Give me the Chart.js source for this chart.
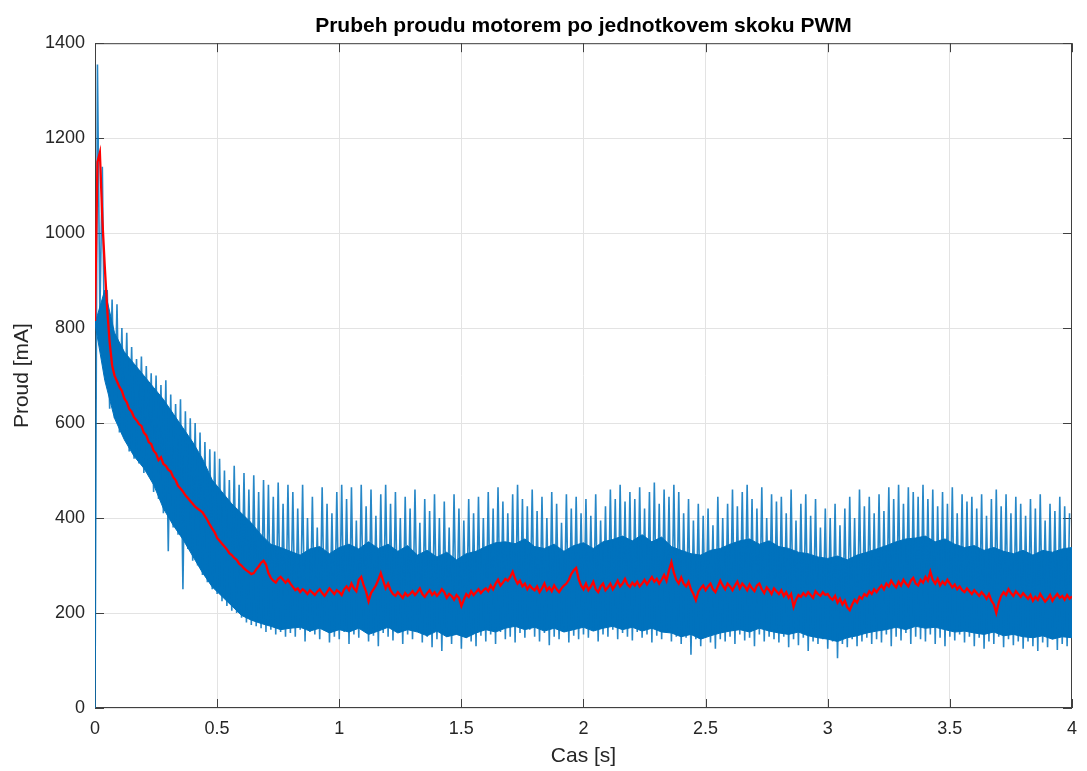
<!DOCTYPE html>
<html>
<head>
<meta charset="utf-8">
<script src="https://cdn.jsdelivr.net/npm/chart.js@4/dist/chart.umd.min.js"></script>
<style>
html, body { margin: 0; background: #fff; }
#wrap { width: 1087px; height: 771px; }
</style>
</head>
<body>
<div id="wrap"><canvas id="chart"></canvas></div>
<script>
// cas v sekundach, proud v mA
const xTicks = [0, 0.5, 1, 1.5, 2, 2.5, 3, 3.5, 4];
const yTicks = [0, 200, 400, 600, 800, 1000, 1200, 1400];

// husty pas mereneho proudu (krok 0.04 s)
const bandStep = 0.04;
const bandLo = [
    810, 690, 610, 565, 530, 505, 470, 420, 385, 355,
    320, 285, 255, 235, 215, 195, 185, 178, 172, 165,
    168, 170, 162, 168, 158, 165, 160, 168, 155, 162,
    170, 158, 165, 160, 152, 162, 150, 155, 148, 158,
    165, 160, 168, 172, 165, 170, 162, 168, 160, 165,
    170, 162, 168, 172, 165, 170, 162, 168, 160, 158,
    150, 155, 145, 152, 158, 162, 165, 160, 168, 162,
    158, 155, 160, 152, 148, 145, 140, 148, 152, 158,
    162, 165, 170, 165, 172, 168, 170, 165, 160, 162,
    158, 155, 160, 152, 155, 150, 148, 152, 145, 150,
    148
];
const bandHi = [
    810, 880, 790, 750, 725, 700, 675, 650, 620, 590,
    560, 525, 480, 455, 430, 410, 390, 365, 345, 338,
    330, 322, 335, 340, 325, 338, 345, 335, 350, 336,
    345, 330, 342, 322, 332, 318, 328, 312, 325, 330,
    340, 348, 350, 346, 356, 340, 336, 345, 330, 342,
    348, 336, 350, 355, 362, 352, 365, 350, 360, 340,
    332, 325, 322, 332, 336, 345, 352, 356, 345, 352,
    340, 336, 328, 325, 318, 315, 320, 312, 322, 328,
    335, 342, 350, 356, 358, 362, 350, 356, 345, 338,
    342, 332, 338, 330, 325, 332, 322, 332, 328, 335,
    338
];

// spicky PWM (krok 0.02 s), dolni a horni
const spikeStep = 0.02;
const spikeLo = [
    0, 830, 700, 630, 610, 580, 570, 540, 525, 515,
    495, 490, 455, 440, 410, 330, 380, 365, 250, 335,
    310, 300, 280, 265, 250, 240, 225, 215, 205, 200,
    190, 180, 175, 172, 168, 160, 165, 155, 160, 150,
    158, 150, 165, 140, 160, 155, 145, 162, 138, 150,
    145, 160, 135, 155, 148, 165, 140, 152, 130, 158,
    150, 142, 160, 135, 155, 145, 165, 138, 150, 128,
    145, 120, 150, 135, 155, 125, 148, 140, 130, 152,
    140, 155, 135, 160, 145, 150, 138, 158, 148, 165,
    150, 140, 158, 132, 150, 145, 160, 138, 152, 145,
    155, 148, 162, 140, 155, 150, 165, 145, 158, 150,
    142, 160, 148, 155, 138, 152, 145, 158, 140, 150,
    135, 148, 112, 145, 130, 150, 138, 125, 145, 140,
    150, 135, 155, 142, 148, 130, 155, 140, 150, 145,
    138, 150, 128, 145, 132, 148, 120, 140, 135, 145,
    125, 140, 105, 135, 128, 145, 130, 140, 148, 135,
    145, 138, 155, 130, 150, 142, 158, 135, 150, 145,
    140, 155, 135, 148, 130, 150, 142, 155, 138, 150,
    130, 148, 125, 140, 135, 150, 128, 145, 132, 140,
    125, 140, 130, 120, 138, 128, 145, 122, 135, 130
];
const spikeHi = [
    1355, 1140, 880, 860, 850, 800, 790, 760, 735, 740,
    720, 705, 700, 680, 690, 660, 640, 650, 625, 610,
    600, 580, 560, 545, 540, 525, 500, 480, 510, 470,
    495, 460, 490, 455, 480, 470, 445, 475, 430, 470,
    455, 420, 470, 400, 445, 380, 465, 430, 410, 455,
    470, 440, 465, 395, 470, 425, 460, 405, 450, 470,
    430, 455, 400, 445, 420, 460, 390, 440, 415, 450,
    400, 435, 380, 450, 420, 395, 440, 410, 445, 400,
    455, 420, 465, 435, 410, 450, 470, 440, 425, 460,
    415, 445, 400, 455, 430, 390, 450, 420, 445, 410,
    440, 405, 450, 395, 425, 460, 440, 470, 435, 455,
    440, 465, 420, 455, 475, 430, 460, 445, 470, 455,
    410, 440, 395, 430, 405, 420, 385, 445, 400, 430,
    460, 425, 455, 470, 440, 420, 465, 400, 450, 435,
    445, 410, 460, 395, 430, 450, 405, 440, 380, 420,
    400, 430, 385, 420, 445, 400, 460, 425, 445, 410,
    450, 415, 465, 440, 470, 430, 465, 455, 445, 470,
    440, 460, 425, 455, 430, 465, 410, 450, 435, 445,
    420, 450, 405, 440, 460, 425, 450, 410, 445, 430,
    405, 440, 420, 450, 395, 430, 415, 445, 425, 410
];

// vyhlazeny prubeh (krok 0.01 s)
const redStep = 0.01;
const filtered = [
    815, 1150, 1170, 1030, 930, 840, 770, 722, 700, 688,
    676, 668, 652, 644, 630, 624, 612, 606, 598, 594,
    580, 574, 560, 556, 542, 536, 522, 528, 514, 510,
    502, 498, 486, 480, 468, 462, 456, 448, 442, 436,
    430, 424, 420, 416, 412, 404, 396, 386, 378, 370,
    358, 352, 346, 340, 334, 326, 322, 316, 312, 304,
    300, 294, 290, 286, 282, 284, 292, 298, 306, 310,
    302, 284, 274, 268, 264, 272, 276, 270, 264, 270,
    262, 255, 248, 252, 244, 250, 246, 240, 248, 243,
    238, 245, 250, 242, 236, 244, 252, 246, 240, 248,
    244, 238, 250, 256, 248, 262, 252, 246, 270, 276,
    258, 245, 225, 242, 250, 258, 270, 284, 268, 252,
    262, 248, 240, 236, 244, 238, 232, 242, 236, 240,
    246, 238, 244, 252, 240, 234, 242, 248, 238, 244,
    236, 242, 250, 244, 232, 240, 236, 228, 238, 232,
    215, 228, 240, 234, 246, 238, 244, 250, 242, 248,
    252, 246, 258, 250, 262, 270, 258, 264, 272, 268,
    276, 287, 272, 262, 268, 256, 262, 250, 258, 252,
    248, 256, 244, 252, 262, 248, 254, 246, 258, 250,
    244, 252, 258, 262, 270, 282, 290, 295, 272, 258,
    250, 262, 248, 256, 266, 250, 244, 256, 262, 248,
    254, 262, 250, 258, 268, 256, 262, 272, 260, 255,
    264, 258, 266, 256, 262, 270, 260, 268, 276, 266,
    272, 262, 270, 280, 268, 290, 307, 285, 270, 262,
    275, 262, 256, 266, 250, 240, 227, 245, 252, 258,
    248, 256, 262, 250, 244, 256, 268, 258, 250, 262,
    256, 248, 258, 266, 252, 262, 256, 248, 260, 252,
    246, 258, 262, 250, 242, 254, 248, 240, 252, 246,
    240, 248, 236, 244, 232, 240, 213, 228, 238, 234,
    242, 236, 244, 238, 232, 246, 240, 236, 244, 238,
    240, 232, 228, 236, 222, 230, 218, 226, 212, 206,
    218, 228, 222, 234, 230, 240, 236, 246, 240, 250,
    244, 252, 258, 250, 262, 256, 268, 260, 254, 266,
    258, 270, 262, 256, 268, 274, 262, 258, 270, 264,
    276, 268, 287, 270, 262, 272, 258, 266, 260, 270,
    262, 254, 260, 250, 256, 248, 244, 252, 246, 240,
    248, 242, 236, 244, 238, 230, 240, 226, 218, 200,
    222, 236, 244, 238, 250, 242, 236, 246, 240, 234,
    242, 236, 230, 238, 226, 234, 228, 240, 232, 224,
    230, 238, 226, 234, 240, 232, 236, 228, 238, 230,
    235
];

let bandLoPts = bandLo.map((v, i) => ({ x: i * bandStep, y: v }));
let bandHiPts = bandHi.map((v, i) => ({ x: i * bandStep, y: v }));
let spikePts = [];
spikeLo.forEach(function (v, i) {
    spikePts.push({ x: i * spikeStep, y: v });
    spikePts.push({ x: i * spikeStep + spikeStep / 2, y: spikeHi[i] });
});
let redPts = filtered.map((v, i) => ({ x: i * redStep, y: v }));

// ramecek os a ticky dovnitr jako v matlabu
const boxPlugin = {
    id: 'box',
    beforeDatasetsDraw(chart) {
        const { ctx, chartArea: a, scales: { x, y } } = chart;
        ctx.save();
        ctx.strokeStyle = '#404040';
        ctx.lineWidth = 1;
        ctx.strokeRect(a.left + 0.5, a.top + 0.5, a.right - a.left - 1, a.bottom - a.top - 1);
        ctx.beginPath();
        xTicks.forEach(function (v) {
            let px = Math.round(x.getPixelForValue(v)) + 0.5;
            ctx.moveTo(px, a.bottom); ctx.lineTo(px, a.bottom - 9);
            ctx.moveTo(px, a.top); ctx.lineTo(px, a.top + 9);
        });
        yTicks.forEach(function (v) {
            let py = Math.round(y.getPixelForValue(v)) + 0.5;
            ctx.moveTo(a.left, py); ctx.lineTo(a.left + 9, py);
            ctx.moveTo(a.right, py); ctx.lineTo(a.right - 9, py);
        });
        ctx.stroke();
        ctx.restore();
    }
};

Chart.defaults.font.family = '"Liberation Sans", Arial, sans-serif';
Chart.defaults.color = '#262626';

var ctx = document.getElementById('chart').getContext('2d');
var chart = new Chart(ctx, {
    type: 'line',
    data: {
        datasets: [{
            label: 'filtrovany',
            data: redPts,
            borderColor: '#ff0000',
            borderWidth: 2.3,
            order: 0
        }, {
            label: 'spicky',
            data: spikePts,
            borderColor: 'rgba(0, 114, 189, 0.85)',
            borderWidth: 1.6,
            order: 1
        }, {
            label: 'pasmo horni',
            data: bandHiPts,
            borderColor: '#0072bd',
            backgroundColor: '#0072bd',
            borderWidth: 1,
            fill: 3,
            order: 2
        }, {
            label: 'pasmo dolni',
            data: bandLoPts,
            borderColor: '#0072bd',
            borderWidth: 1,
            fill: false,
            order: 3
        }]
    },
    options: {
        animation: false,
        responsive: true,
        maintainAspectRatio: false,
        elements: {
            point: { radius: 0 },
            line: { tension: 0 }
        },
        layout: { padding: { left: 0, right: 10, top: 0, bottom: 0 } },
        plugins: {
            legend: { display: false },
            tooltip: { enabled: false },
            title: {
                display: true,
                text: 'Prubeh proudu motorem po jednotkovem skoku PWM',
                fullSize: false,
                color: '#000',
                font: { size: 21, weight: 'bold' },
                padding: { top: 14, bottom: 4 }
            }
        },
        scales: {
            x: {
                type: 'linear',
                min: 0,
                max: 4,
                afterBuildTicks: function (s) { s.ticks = xTicks.map(v => ({ value: v })); },
                afterFit: function (s) { s.height = 63; },
                ticks: {
                    callback: v => String(v),
                    font: { size: 18 },
                    padding: 10,
                    maxRotation: 0,
                    autoSkip: false
                },
                grid: { color: '#e3e3e3', drawTicks: false },
                border: { display: false },
                title: {
                    display: true,
                    text: 'Cas [s]',
                    font: { size: 21 },
                    padding: { top: 0, bottom: 2 }
                }
            },
            y: {
                min: 0,
                max: 1400,
                afterBuildTicks: function (s) { s.ticks = yTicks.map(v => ({ value: v })); },
                afterFit: function (s) { s.width = 95; },
                ticks: {
                    callback: v => String(v),
                    font: { size: 18 },
                    padding: 10,
                    autoSkip: false
                },
                grid: { color: '#e3e3e3', drawTicks: false },
                border: { display: false },
                title: {
                    display: true,
                    text: 'Proud [mA]',
                    font: { size: 21 },
                    padding: { top: 10, bottom: 0 }
                }
            }
        }
    },
    plugins: [boxPlugin]
});
</script>
</body>
</html>
